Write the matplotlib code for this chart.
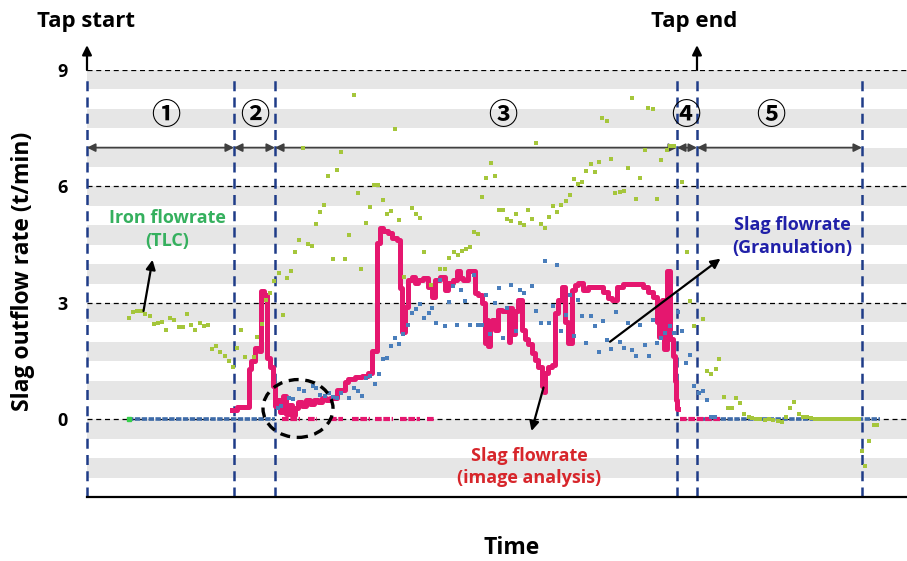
import matplotlib.pyplot as plt
from matplotlib.patches import Ellipse

plt.rcParams['font.family'] = ['Open Sans', 'Noto Sans CJK KR', 'DejaVu Sans']
plt.rcParams['font.weight'] = 'bold'

# time axis in minutes from tap start, values in t/min
phase_bounds = [0, 29.4, 37.6, 118.0, 122.0, 155.0]
phase_labels = ['①', '②', '③', '④', '⑤']
phase_label_t = [15.8, 33.6, 83.2, 119.8, 136.8]

# Iron flowrate (TLC)
iron_t = [8.3, 9.1, 9.9, 10.7, 11.6, 12.5, 13.3, 14.1, 14.9, 15.8,
          16.6, 17.4, 18.3, 19.1, 19.9, 20.8, 21.6, 22.5, 23.3, 24.1,
          24.9, 25.8, 26.6, 27.5, 28.3, 29.1, 29.9, 30.8, 31.5, 33.3,
          33.9, 34.9, 35.7, 36.5, 37.3, 38.3, 39.1, 39.9, 40.7, 41.5,
          42.4, 43.2, 44.1, 44.9, 45.7, 46.5, 47.4, 48.2, 49.1, 49.9,
          50.7, 51.6, 52.4, 53.3, 54.1, 54.8, 55.7, 56.6, 57.4, 58.1,
          59.1, 59.9, 60.7, 61.5, 62.3, 63.3, 64.9, 65.7, 66.5, 67.3,
          68.7, 70.6, 71.5, 72.4, 73.3, 74.1, 74.9, 75.7, 76.5, 77.4,
          78.2, 79.0, 79.8, 80.7, 81.5, 82.3, 83.1, 84.0, 84.8, 85.7,
          86.5, 87.3, 88.1, 88.9, 89.8, 90.7, 91.5, 92.3, 93.1, 94.0,
          94.8, 95.7, 96.5, 97.4, 98.2, 98.9, 99.8, 100.7, 101.6, 102.3,
          103.0, 103.9, 104.8, 105.6, 106.5, 107.3, 108.1, 109.0, 109.8, 110.6,
          111.5, 112.1, 113.1, 113.9, 114.8, 115.9, 116.6, 117.3, 118.9, 119.9,
          120.6, 121.4, 123.1, 123.9, 124.8, 125.7, 126.4, 127.3, 128.1, 129.0,
          129.7, 130.6, 131.4, 132.3, 133.0, 133.8, 134.6, 135.5, 136.4, 137.2,
          138.1, 138.9, 139.7, 140.6, 141.4, 142.3, 143.1, 143.9, 144.7, 145.5,
          146.3, 147.1, 148.0, 148.8, 149.6, 150.4, 151.2, 152.0, 152.8, 153.6,
          154.4, 154.9, 155.5, 156.3, 157.3, 158.0]
iron_v = [2.62, 2.77, 2.80, 2.80, 2.71, 2.67, 2.46, 2.49, 2.50, 2.31,
          2.60, 2.55, 2.37, 2.38, 2.71, 2.42, 2.31, 2.49, 2.40, 2.42,
          1.82, 1.88, 1.73, 1.62, 1.51, 1.36, 1.83, 2.29, 1.60, 1.60,
          2.13, 2.46, 3.07, 3.26, 3.56, 3.77, 2.70, 3.64, 3.81, 4.32,
          4.61, 6.99, 4.53, 4.46, 5.02, 5.34, 5.52, 6.27, 4.14, 6.43,
          6.90, 4.14, 4.74, 8.36, 5.82, 3.87, 5.05, 5.47, 6.03, 6.03,
          5.64, 5.30, 5.37, 7.47, 5.14, 3.68, 5.45, 5.30, 5.18, 4.30,
          3.45, 3.88, 3.88, 4.16, 4.30, 4.23, 4.33, 4.40, 4.43, 4.82,
          4.78, 5.72, 6.21, 6.60, 6.28, 5.40, 5.40, 5.16, 5.10, 5.28,
          5.05, 5.01, 5.40, 5.17, 7.11, 5.04, 4.93, 5.22, 5.50, 5.33,
          5.52, 5.63, 5.79, 6.18, 6.06, 6.12, 6.40, 6.58, 6.38, 6.62,
          7.77, 7.69, 6.70, 5.82, 5.85, 5.88, 6.47, 8.29, 5.67, 6.23,
          6.94, 8.03, 8.00, 5.67, 6.67, 6.94, 7.03, 7.03, 6.12, 4.31,
          3.04, 2.40, 2.59, 1.24, 1.16, 1.30, 1.56, 0.58, 0.28, 0.28,
          0.54, 0.43, 0.15, 0.07, 0.03, 0.02, 0.0, -0.02, 0.0, -0.02,
          -0.05, -0.08, 0.07, 0.28, 0.44, 0.13, 0.07, 0.05, 0.03, 0.02,
          0.02, 0.0, 0.0, 0.0, 0.0, 0.0, 0.0, 0.0, 0.0, 0.0,
          0.0, -0.82, -1.20, -0.57, -0.14, -0.14]

# Slag flowrate (image analysis), stepped
slag_img_t = [29.0, 29.9, 32.3, 32.8, 33.6, 34.3, 34.7, 35.4, 35.9, 36.6,
              37.1, 37.6, 38.0, 38.6, 39.2, 39.8, 40.4, 41.0, 41.6, 42.2,
              43.0, 43.8, 44.6, 45.4, 46.2, 47.0, 47.8, 48.6, 50.0, 51.6,
              52.2, 53.6, 55.0, 56.2, 57.0, 58.0, 58.6, 59.2, 60.2, 61.0,
              62.0, 62.6, 63.0, 63.6, 64.2, 65.0, 65.6, 66.2, 67.2, 68.2,
              69.0, 69.6, 70.6, 71.6, 72.2, 73.2, 74.0, 74.6, 75.2, 76.2,
              77.6, 78.2, 79.0, 79.6, 80.0, 80.2, 80.6, 81.0, 81.6, 82.2,
              83.0, 84.0, 84.4, 84.6, 85.0, 85.6, 86.2, 87.0, 87.6, 88.2,
              89.0, 89.6, 90.2, 91.0, 91.3, 91.6, 92.2, 93.0, 93.6, 94.2,
              95.0, 95.6, 96.2, 97.0, 97.6, 98.2, 99.2, 100.2, 103.2, 104.2,
              105.0, 106.0, 107.2, 111.2, 112.2, 113.2, 114.0, 114.4, 115.0, 115.4,
              116.0, 116.6, 117.2, 117.6, 117.8, 118.0, 118.2]
slag_img_v = [0.25, 0.32, 1.29, 1.50, 1.84, 1.76, 3.30, 3.21, 1.59, 1.36,
              0.87, 0.35, 0.50, 0.20, 0.60, 0.15, 0.38, 0.10, 0.30, 0.45,
              0.35, 0.50, 0.40, 0.50, 0.45, 0.55, 0.50, 0.55, 0.75, 0.95,
              1.03, 1.08, 1.11, 1.20, 1.75, 4.55, 4.93, 4.85, 4.80, 4.67,
              4.63, 3.39, 2.24, 2.90, 3.60, 3.68, 3.52, 3.60, 3.65, 3.42,
              3.16, 3.60, 3.68, 3.34, 3.52, 3.60, 3.81, 3.65, 3.60, 3.81,
              3.26, 3.21, 3.00, 1.98, 2.57, 1.88, 2.40, 2.57, 2.31, 2.83,
              2.78, 2.88, 2.00, 2.88, 2.20, 2.78, 3.08, 2.30, 2.06, 1.93,
              1.72, 1.54, 1.34, 0.85, 0.70, 1.20, 1.34, 1.41, 2.75, 3.08,
              3.42, 2.50, 1.98, 3.34, 3.47, 3.52, 3.34, 3.42, 3.29, 3.13,
              3.08, 3.42, 3.50, 3.42, 3.29, 3.16, 2.50, 2.13, 3.08, 1.80,
              3.81, 2.06, 1.62, 1.00, 0.50, 0.26, 0.26]
# stretches where image analysis read zero
slag_img_zero_start = [39.0, 44.2, 48.6, 53.0, 57.6, 62.6, 68.0, 118.6]
slag_img_zero_end = [42.6, 46.0, 51.2, 56.6, 61.2, 66.6, 69.6, 126.6]

# Slag flowrate (granulation)
gran_t = [38.1, 38.8, 40.3, 41.1, 42.4, 43.3, 45.1, 45.8, 46.6, 47.5,
          48.3, 49.1, 49.9, 50.8, 52.3, 53.3, 54.1, 54.9, 55.8, 56.6,
          57.5, 58.3, 59.1, 59.9, 60.7, 61.6, 62.4, 63.1, 64.1, 64.9,
          65.7, 66.6, 67.4, 68.3, 68.9, 69.8, 70.6, 71.6, 72.4, 73.1,
          74.0, 74.8, 75.6, 76.5, 77.3, 78.1, 78.9, 79.7, 80.6, 81.5,
          82.3, 83.1, 83.9, 84.8, 85.7, 86.5, 87.4, 89.0, 89.8, 90.7,
          91.5, 92.3, 93.1, 93.9, 94.8, 95.7, 96.5, 97.3, 98.1, 98.9,
          99.8, 100.7, 101.5, 102.3, 103.1, 104.0, 104.8, 105.7, 106.5, 107.3,
          108.1, 108.9, 109.8, 110.6, 111.5, 112.3, 113.1, 113.9, 114.7, 115.6,
          116.5, 117.3, 118.1, 118.9, 119.8, 120.6, 121.4, 122.3, 123.1, 123.9,
          124.8, 125.6]
gran_v = [0.30, 0.34, 0.56, 0.53, 0.77, 0.73, 0.86, 0.82, 0.62, 0.60,
          0.69, 0.58, 0.56, 0.69, 0.56, 0.82, 0.73, 0.60, 1.07, 1.11,
          0.90, 1.18, 1.56, 1.59, 1.88, 2.10, 1.95, 2.20, 2.44, 2.74,
          2.85, 2.98, 2.62, 2.74, 2.87, 2.49, 3.60, 2.40, 3.03, 3.43,
          2.44, 3.34, 3.04, 2.44, 3.73, 2.44, 2.42, 3.21, 2.19, 3.00,
          3.39, 2.10, 2.87, 3.47, 2.27, 3.34, 3.26, 3.43, 2.78, 2.49,
          4.09, 2.49, 2.93, 3.97, 2.27, 2.70, 3.21, 2.14, 3.07, 2.66,
          1.97, 2.66, 2.40, 1.73, 2.53, 2.04, 1.82, 2.76, 2.00, 1.84,
          2.47, 1.78, 1.63, 2.42, 1.91, 1.63, 2.57, 1.97, 2.10, 2.23,
          2.40, 2.23, 2.76, 2.27, 1.46, 1.67, 0.86, 0.69, 0.73, 0.51,
          0.07, 0.07]
gran_zero_start = [8.2, 122.6]
gran_zero_end = [37.6, 158.6]

pink = '#e5176f'
green = '#a5c63b'
blue = '#4a7ebb'
navy = '#1f3c88'

fig = plt.figure(figsize=(9.07, 5.61), dpi=100)
ax = fig.add_axes([87 / 907, 64 / 561, 820 / 907, 427 / 561])
ax.set_xlim(0, 164)
ax.set_ylim(-2, 9)

# striped background
for k in range(-1, 10):
    ax.axhspan(k - 0.5, k, color='#e6e6e6', lw=0, zorder=0)
for y in [0, 3, 6, 9]:
    ax.axhline(y, color='black', lw=0.9, ls=(0, (4, 3)), zorder=1)

# phase boundaries and spans
ax.vlines(phase_bounds, -2, 8.85, colors=navy, lw=1.8, ls=(0, (4, 2.5)), zorder=2, clip_on=False)
for a, b in zip(phase_bounds[:-1], phase_bounds[1:]):
    ax.annotate('', xy=(b, 7.0), xytext=(a, 7.0),
                arrowprops=dict(arrowstyle='<|-|>', color='#404040', lw=1.3,
                                mutation_scale=12, shrinkA=0, shrinkB=0))
for t, lab in zip(phase_label_t, phase_labels):
    ax.text(t, 7.84, lab, ha='center', va='center', fontsize=21,
            family=['Noto Sans CJK KR', 'DejaVu Sans'], zorder=6)

# data
ax.hlines([0] * len(gran_zero_start), gran_zero_start, gran_zero_end, colors='#3d6aa8',
          lw=2.6, ls=(0, (1.5, 0.4)), zorder=3)
ax.plot(slag_img_t, slag_img_v, drawstyle='steps-post', color=pink, lw=3.6, zorder=3)
ax.hlines([0] * len(slag_img_zero_start), slag_img_zero_start, slag_img_zero_end, colors=pink,
          lw=3, ls=(0, (1.6, 0.4)), zorder=3)
ax.scatter(gran_t, gran_v, marker='s', s=11, color=blue, lw=0, zorder=4)
ax.scatter(iron_t, iron_v, marker='s', s=11, color=green, lw=0, zorder=4)
ax.plot(iron_t[0], 0, 's', color='#35d04a', ms=3.3, zorder=4)

ax.add_patch(Ellipse((42.2, 0.28), 14, 1.49, fill=False, ec='black', lw=2.4,
                     ls=(0, (3, 2)), zorder=6))

# annotations
arr = dict(arrowstyle='-|>', color='black', lw=1.6, mutation_scale=14, shrinkA=0, shrinkB=0)
ax.text(16.0, 4.89, 'Iron flowrate\n(TLC)', color='#35b05e', fontsize=13,
        ha='center', va='center', linespacing=1.3, zorder=7)
ax.annotate('', xy=(13.1, 4.11), xytext=(11.3, 2.79), arrowprops=arr, zorder=7)
ax.text(141.0, 4.71, 'Slag flowrate\n(Granulation)', color='#2020a8', fontsize=13,
        ha='center', va='center', linespacing=1.3, zorder=7)
ax.annotate('', xy=(126.7, 4.14), xytext=(104.6, 2.0), arrowprops=arr, zorder=7)
ax.text(88.4, -1.23, 'Slag flowrate\n(image analysis)', color='#d7262b', fontsize=13,
        ha='center', va='center', linespacing=1.3, zorder=7)
ax.annotate('', xy=(88.9, -0.30), xytext=(91.3, 0.82), arrowprops=arr, zorder=7)

# tap start / end markers
ax.annotate('', xy=(0, 9.64), xytext=(0, 9.0), arrowprops=arr, annotation_clip=False)
ax.annotate('', xy=(122.0, 9.64), xytext=(122.0, 9.0), arrowprops=arr, annotation_clip=False)
fig.text(86 / 907, 1 - 22 / 561, 'Tap start', ha='center', va='center', fontsize=16)
fig.text(694 / 907, 1 - 22 / 561, 'Tap end', ha='center', va='center', fontsize=16)

for s in ['top', 'right', 'left']:
    ax.spines[s].set_visible(False)
ax.spines['bottom'].set_linewidth(1.6)
ax.set_xticks([])
ax.set_yticks([0, 3, 6, 9])
ax.tick_params(axis='y', length=0, pad=14, labelsize=13)

fig.text(23 / 907, 1 - 271 / 561, 'Slag outflow rate (t/min)', rotation=90,
         ha='center', va='center', fontsize=16.5)
fig.text(512 / 907, 1 - 548 / 561, 'Time', ha='center', va='center', fontsize=16.5)

fig.savefig('out.png', dpi=100)
